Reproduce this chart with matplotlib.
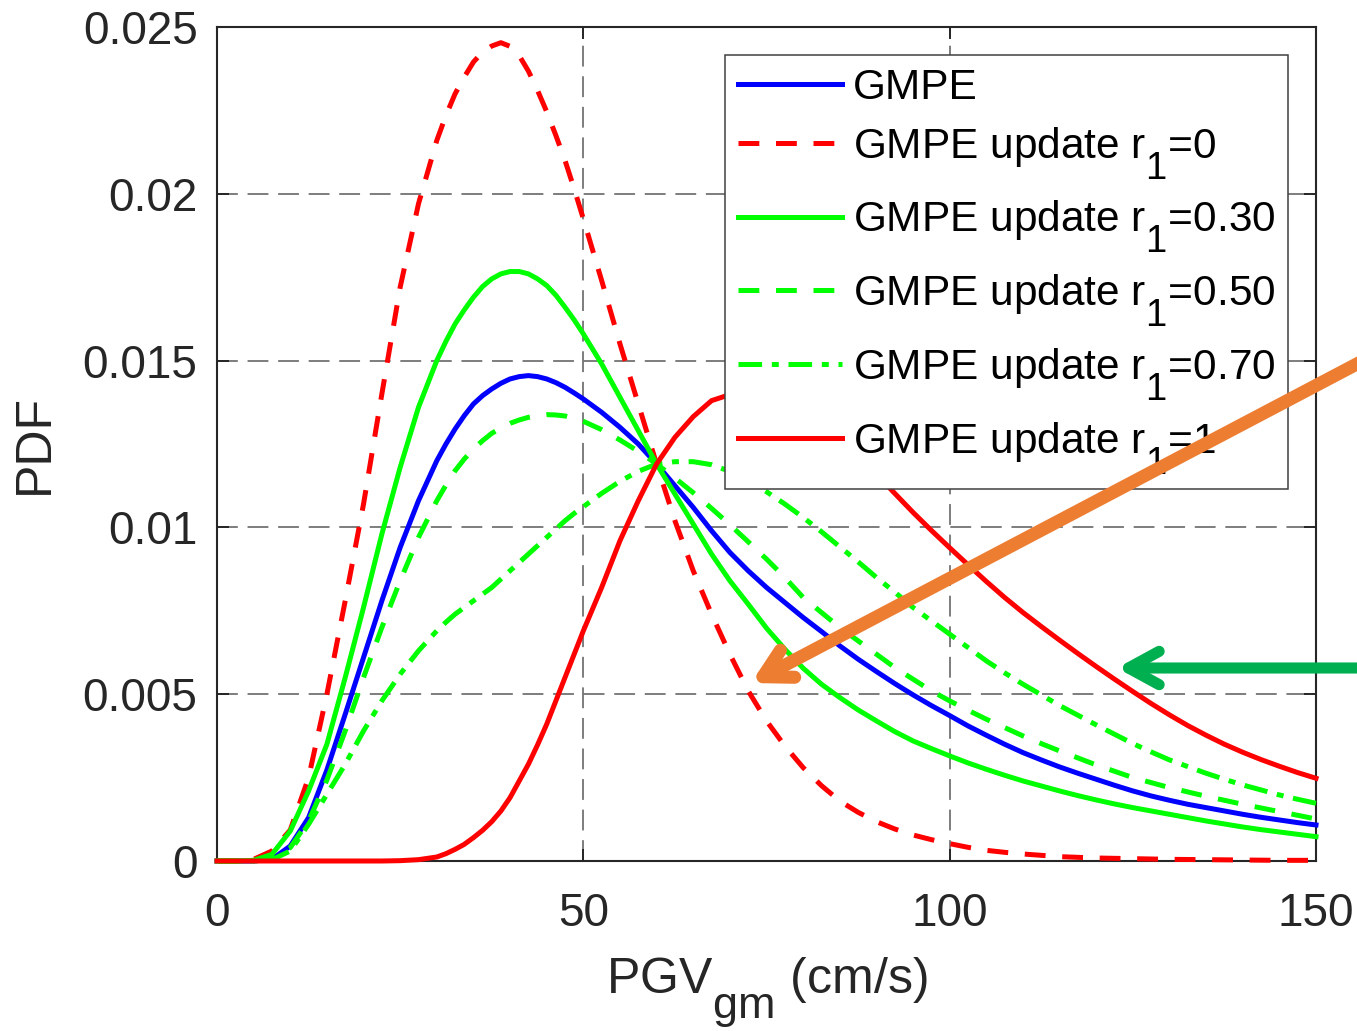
import matplotlib
matplotlib.use("Agg")
import matplotlib.pyplot as plt
import matplotlib._mathtext as _mt
from matplotlib.patches import FancyArrowPatch

# MATLAB-like large, strongly lowered subscripts
_mt.SHRINK_FACTOR = 0.9
_mt.FontConstantsBase.sub1 = 0.95

plt.rcParams['font.family'] = ['Liberation Sans', 'DejaVu Sans']
plt.rcParams['mathtext.fontset'] = 'custom'
plt.rcParams['mathtext.rm'] = 'Liberation Sans'
plt.rcParams['mathtext.it'] = 'Liberation Sans'
plt.rcParams['mathtext.default'] = 'regular'
plt.rcParams['lines.scale_dashes'] = False

# ---------------- data ----------------
pgv = [0, 2.5, 5, 7.5, 10, 12.5, 15, 17.5, 20, 22.5, 25, 27.5,
       30, 31.25, 32.5, 33.75, 35, 36.25, 37.5, 38.75, 40, 41.25, 42.5, 43.75,
       45, 46.25, 47.5, 48.75, 50,
       52.5, 55, 57.5, 60, 62.5, 65, 67.5, 70, 72.5, 75, 77.5, 80, 82.5, 85,
       87.5, 90, 92.5, 95, 97.5, 100, 102.5, 105, 107.5, 110, 112.5, 115,
       117.5, 120, 122.5, 125, 127.5, 130, 132.5, 135, 137.5, 140, 142.5, 145,
       147.5, 150]

pdf_gmpe = [0, 0, 0, 0.00005, 0.00045, 0.0013, 0.00273, 0.0044, 0.0061, 0.0078, 0.0094, 0.0108,
            0.0120, 0.0125, 0.01295, 0.01335, 0.0137, 0.01395, 0.01415, 0.01432, 0.01445, 0.01452,
            0.01455, 0.01452, 0.01445, 0.01434, 0.0142, 0.01403, 0.01385,
            0.01345, 0.0130, 0.0125, 0.0119, 0.01125, 0.0106, 0.0099, 0.00925, 0.0087, 0.0082,
            0.00775, 0.0073, 0.00688, 0.00645, 0.00605, 0.00568, 0.00532, 0.00498, 0.00466,
            0.00436, 0.00405, 0.00377, 0.0035, 0.00325, 0.00303, 0.00282, 0.00263, 0.00245,
            0.00227, 0.0021, 0.00195, 0.00182, 0.0017, 0.0016, 0.0015, 0.0014, 0.00131,
            0.00123, 0.00115, 0.00108]

pdf_r0 = [0, 0, 0.00005, 0.0003, 0.00093, 0.0025, 0.0050, 0.0078, 0.0107, 0.0140, 0.0172, 0.0197,
          0.0216, 0.02235, 0.0230, 0.0235, 0.02395, 0.02425, 0.02443, 0.02453, 0.02442, 0.02414,
          0.02368, 0.02310, 0.02246, 0.02175, 0.0210, 0.02015, 0.01925,
          0.0174, 0.0155, 0.0137, 0.0119, 0.0102, 0.0087, 0.0074, 0.0062, 0.0051, 0.0042,
          0.00345, 0.0028, 0.00226, 0.0018, 0.00146, 0.00118, 0.00096, 0.00078, 0.00064,
          0.00052, 0.00041, 0.00032, 0.00026, 0.00021, 0.00017, 0.00013, 0.00011, 0.00009,
          0.00008, 0.00007, 0.00006, 0.00005, 0.000045, 0.00004, 0.000035, 0.00003, 0.000025,
          0.00002, 0.00002, 0.00002]

pdf_r030 = [0, 0, 0.00002, 0.0002, 0.0009, 0.0021, 0.0035, 0.0055, 0.0076, 0.0098, 0.0118, 0.0136,
            0.0150, 0.01558, 0.0161, 0.01652, 0.0169, 0.01722, 0.01745, 0.0176, 0.01767, 0.01767,
            0.0176, 0.01745, 0.01725, 0.01696, 0.0166, 0.01622, 0.0158,
            0.0149, 0.0139, 0.0129, 0.0119, 0.0110, 0.0101, 0.0092, 0.0084, 0.0077, 0.00698,
            0.00635, 0.00578, 0.0053, 0.0049, 0.00453, 0.0042, 0.00388, 0.0036, 0.00337,
            0.00315, 0.00294, 0.00275, 0.00257, 0.0024, 0.00225, 0.0021, 0.00196, 0.00183,
            0.00171, 0.0016, 0.0015, 0.0014, 0.0013, 0.0012, 0.00111, 0.00102, 0.00094,
            0.00087, 0.0008, 0.00073]

pdf_r050 = [0, 0, 0.00001, 0.00008, 0.0004, 0.0012, 0.00243, 0.0039, 0.0055, 0.0070, 0.0084, 0.0097,
            0.0108, 0.01127, 0.0117, 0.01205, 0.01235, 0.0126, 0.01282, 0.01298, 0.01312, 0.01322,
            0.0133, 0.01335, 0.01338, 0.01337, 0.01334, 0.01327, 0.01318,
            0.01293, 0.01262, 0.01228, 0.0119, 0.01148, 0.01104, 0.01057, 0.01008, 0.00957, 0.00905,
            0.0085, 0.0079, 0.00745, 0.0070, 0.0066, 0.0062, 0.0058, 0.00545, 0.0051,
            0.0048, 0.00452, 0.00425, 0.0040, 0.00375, 0.00352, 0.0033, 0.00309, 0.00288,
            0.00269, 0.0025, 0.00235, 0.0022, 0.00207, 0.00194, 0.00182, 0.0017, 0.00159,
            0.00148, 0.00137, 0.00126]

pdf_r070 = [0, 0, 0, 0.00004, 0.0003, 0.0011, 0.0020, 0.0029, 0.0039, 0.0048, 0.0056, 0.0063,
            0.0069, 0.00716, 0.0074, 0.0076, 0.0078, 0.0080, 0.0082, 0.00845, 0.0087, 0.00895,
            0.0092, 0.00945, 0.0097, 0.00995, 0.0102, 0.01042, 0.01062,
            0.01102, 0.01138, 0.01168, 0.0119, 0.01197, 0.01197, 0.01188, 0.01168, 0.0114, 0.01107,
            0.0107, 0.0103, 0.00987, 0.00942, 0.00897, 0.0085, 0.00806, 0.0076, 0.0072,
            0.0068, 0.0064, 0.0060, 0.00564, 0.0053, 0.00498, 0.00466, 0.00437, 0.00408,
            0.0038, 0.00352, 0.00327, 0.00303, 0.00283, 0.00263, 0.00245, 0.00228, 0.00213,
            0.00198, 0.00185, 0.00173]

pdf_r1 = [0, 0, 0, 0, 0, 0, 0, 0, 0, 0, 0.00001, 0.00004,
          0.00012, 0.00022, 0.00035, 0.0005, 0.0007, 0.00092, 0.00118, 0.0015, 0.0019, 0.0024,
          0.0029, 0.00348, 0.0041, 0.0048, 0.0055, 0.0062, 0.0069,
          0.0082, 0.0096, 0.0108, 0.0119, 0.0127, 0.01332, 0.0138, 0.01398, 0.01408, 0.01405,
          0.01388, 0.0136, 0.0132, 0.0127, 0.01215, 0.0116, 0.01102, 0.01045, 0.00991,
          0.00939, 0.00888, 0.00838, 0.0079, 0.00745, 0.00703, 0.00662, 0.00622, 0.00583,
          0.00545, 0.00508, 0.00472, 0.00438, 0.00406, 0.00377, 0.0035, 0.00326, 0.00304,
          0.00284, 0.00265, 0.00248]

labels = ['GMPE',
          r'GMPE update r$_{1}$=0',
          r'GMPE update r$_{1}$=0.30',
          r'GMPE update r$_{1}$=0.50',
          r'GMPE update r$_{1}$=0.70',
          r'GMPE update r$_{1}$=1']

xticks = [0, 50, 100, 150]
xticklabels = ['0', '50', '100', '150']
yticks = [0, 0.005, 0.01, 0.015, 0.02, 0.025]
yticklabels = ['0', '0.005', '0.01', '0.015', '0.02', '0.025']

# ---------------- figure ----------------
W, H = 1357, 1031
fig = plt.figure(figsize=(W / 100, H / 100), dpi=100)
ax = fig.add_axes([217 / W, 1 - 861 / H, (1316 - 217) / W, (861 - 27) / H])

lw = 3.6
DASH = (0, (15, 12))
DASHDOT = (0, (17, 7, 5, 7))
series = [
    (pdf_gmpe, '#0000FF', '-'),
    (pdf_r0, '#FF0000', DASH),
    (pdf_r030, '#00FF00', '-'),
    (pdf_r050, '#00FF00', DASH),
    (pdf_r070, '#00FF00', DASHDOT),
    (pdf_r1, '#FF0000', '-'),
]
for (vals, col, ls), lab in zip(series, labels):
    ax.plot(pgv, vals, color=col, linestyle=ls, linewidth=lw, label=lab,
            clip_on=False, zorder=3, solid_joinstyle='round')

ax.set_xlim(0, 150)
ax.set_ylim(0, 0.025)
ax.set_xticks(xticks)
ax.set_xticklabels(xticklabels)
ax.set_yticks(yticks)
ax.set_yticklabels(yticklabels)

axcol = '#262626'
for s in ax.spines.values():
    s.set_linewidth(1.5)
    s.set_color(axcol)
    s.set_zorder(2.5)
ax.tick_params(direction='in', length=8.6, width=1.4, colors=axcol,
               top=True, right=True, labelsize=33)
ax.tick_params(axis='y', pad=14)
ax.tick_params(axis='x', pad=22)

ax.grid(True, color='#5a5a5a', linestyle=(0, (15, 7)), linewidth=1.1, zorder=1)
ax.set_axisbelow(True)

ax.set_xlabel(r'PGV$_{\mathregular{gm}}$ (cm/s)', fontsize=36, color=axcol,
              labelpad=14)
ax.set_ylabel('PDF', fontsize=36, color=axcol, labelpad=18)

leg = ax.legend(loc='upper right', bbox_to_anchor=((1288 - 217) / 1099, (861 - 55) / 834),
                borderaxespad=0, fontsize=30.5, handlelength=2.45,
                handletextpad=0.26, labelspacing=0.40, borderpad=0.30,
                frameon=True, fancybox=False, framealpha=1, edgecolor='#404040')
leg.get_frame().set_linewidth(1.1)
leg.set_zorder(5)

# ---------------- annotation arrows ----------------
def fpx(x, y):
    return (x / W, 1 - y / H)

orange = FancyArrowPatch(fpx(1372, 356), fpx(751, 683), transform=fig.transFigure,
                         arrowstyle='->,head_length=20,head_width=11',
                         mutation_scale=1, shrinkA=0, shrinkB=0,
                         color='#ED7D31', linewidth=9.4,
                         capstyle='round', joinstyle='round', zorder=10)
fig.add_artist(orange)
green = FancyArrowPatch(fpx(1372, 668), fpx(1117, 668), transform=fig.transFigure,
                        arrowstyle='->,head_length=22,head_width=12',
                        mutation_scale=1, shrinkA=0, shrinkB=0,
                        color='#00B050', linewidth=8,
                        capstyle='round', joinstyle='round', zorder=10)
fig.add_artist(green)

fig.savefig('out.png', dpi=100)
